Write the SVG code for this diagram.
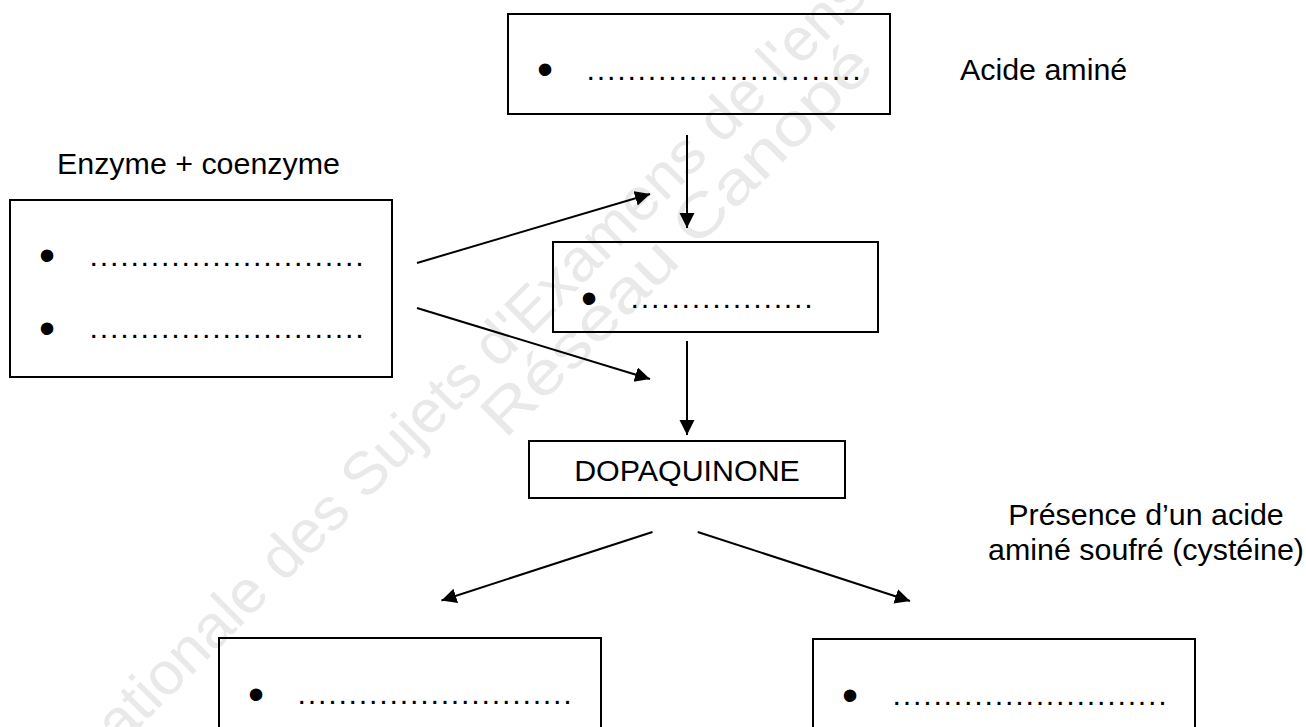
<svg xmlns="http://www.w3.org/2000/svg" width="1306" height="727" viewBox="0 0 1306 727">
  <defs>
    <style>
      .box { fill: none; stroke: #000; stroke-width: 2; }
      .lbl { font-family: "Liberation Sans", Arial, sans-serif; font-size: 30.4px; fill: #000; }
      .dots { font-family: "Liberation Sans", Arial, sans-serif; font-size: 30.4px; fill: #000; letter-spacing: 1.78px; }
      .bul { font-family: "Liberation Sans", Arial, sans-serif; font-size: 46px; fill: #000; text-anchor: middle; }
      .wm { font-family: "Liberation Sans", Arial, sans-serif; font-size: 60px; fill: #e9e9e9; }
      .conn { stroke: #000; stroke-width: 2; fill: none; marker-end: url(#arrow); }
    </style>
    <marker id="arrow" markerUnits="userSpaceOnUse" markerWidth="16" markerHeight="16" refX="15" refY="7.5" orient="auto">
      <path d="M0,0 L15,7.5 L0,15 Z" fill="#000"/>
    </marker>
  </defs>
  <rect width="1306" height="727" fill="#fff"/>

  <g id="watermark">
    <text class="wm" transform="translate(120,747) rotate(-45)" textLength="1060" lengthAdjust="spacingAndGlyphs">ationale des Sujets d'Examens de l'ens</text>
    <text class="wm" transform="translate(505,440) rotate(-45)" textLength="525" lengthAdjust="spacingAndGlyphs">Réseau Canopé</text>
  </g>

  <g id="acide-amine-box">
    <rect class="box" x="508" y="14" width="382" height="100"/>
    <text class="bul" x="545" y="85">•</text>
    <text class="dots" x="586.5" y="80">...........................</text>
  </g>
  <g id="label-acide-amine">
    <text class="lbl" x="960" y="80">Acide aminé</text>
  </g>

  <g id="label-enzyme">
    <text class="lbl" x="57" y="174">Enzyme + coenzyme</text>
  </g>
  <g id="enzyme-box">
    <rect class="box" x="10" y="200" width="382" height="177"/>
    <text class="bul" x="47" y="271">•</text>
    <text class="dots" x="89.5" y="266">...........................</text>
    <text class="bul" x="47" y="344">•</text>
    <text class="dots" x="89.5" y="338">...........................</text>
  </g>

  <g id="intermediate-box">
    <rect class="box" x="553" y="242" width="325" height="90"/>
    <text class="bul" x="589" y="314">•</text>
    <text class="dots" x="630.5" y="307.5">..................</text>
  </g>

  <g id="dopaquinone">
    <rect class="box" x="529" y="441" width="316" height="57"/>
    <text class="lbl" x="687" y="481" text-anchor="middle">DOPAQUINONE</text>
  </g>

  <g id="label-cysteine">
    <text class="lbl" x="1146" y="525" text-anchor="middle">Présence d’un acide</text>
    <text class="lbl" x="1146" y="560" text-anchor="middle">aminé soufré (cystéine)</text>
  </g>

  <g id="product-left">
    <rect class="box" x="219" y="638" width="382" height="110"/>
    <text class="bul" x="256" y="710">•</text>
    <text class="dots" x="297.5" y="703.5">...........................</text>
  </g>

  <g id="product-right">
    <rect class="box" x="813" y="639" width="382" height="110"/>
    <text class="bul" x="850" y="711">•</text>
    <text class="dots" x="892.5" y="704.5">...........................</text>
  </g>

  <g id="connectors">
    <line class="conn" x1="687" y1="135" x2="687" y2="228"/>
    <line class="conn" x1="417" y1="263" x2="650" y2="194"/>
    <line class="conn" x1="417" y1="308" x2="650" y2="379"/>
    <line class="conn" x1="687" y1="341" x2="687" y2="435"/>
    <line class="conn" x1="652.5" y1="532" x2="441.5" y2="600.5"/>
    <line class="conn" x1="697.7" y1="532" x2="910" y2="601"/>
  </g>
</svg>
